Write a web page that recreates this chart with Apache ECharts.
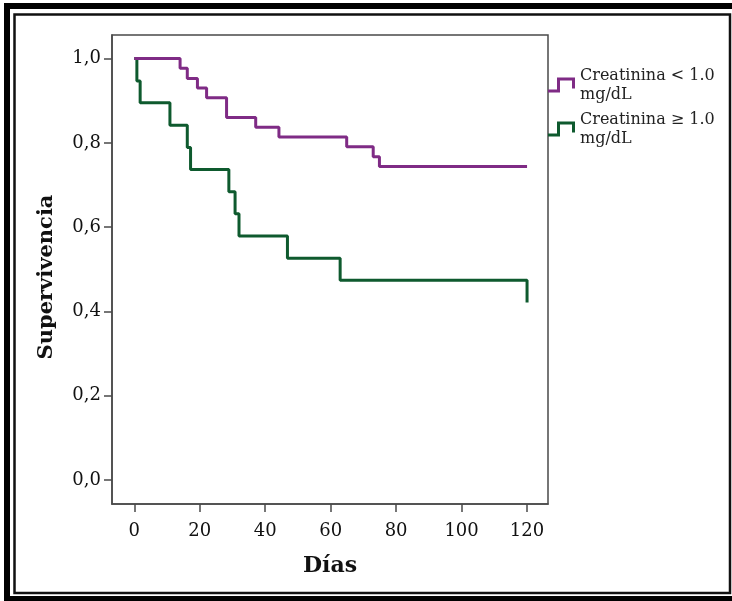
<!DOCTYPE html>
<html>
<head>
<meta charset="utf-8">
<script src="https://cdn.jsdelivr.net/npm/echarts@6/dist/echarts.min.js"></script>
<style>
  html, body { margin: 0; padding: 0; background: #fff; }
  #chart { width: 732px; height: 601px; }
</style>
</head>
<body>
<div id="chart"></div>
<script>
// Kaplan-Meier survival data
const lowName = 'Creatinina < 1.0\nmg/dL';
const highName = 'Creatinina \u2265 1.0\nmg/dL';

const lowDays = [0, 14.0, 16.2, 19.3, 22.1, 28.2, 37.1, 44.2, 64.9, 73.0, 74.9, 120];
const lowSurv = [1.0, 0.977, 0.953, 0.930, 0.907, 0.860, 0.837, 0.814, 0.791, 0.767, 0.744, 0.744];

const highDays = [0, 0.8, 1.8, 10.9, 16.2, 17.2, 28.9, 30.8, 32.0, 46.8, 62.9, 120];
const highSurv = [1.0, 0.947, 0.895, 0.842, 0.789, 0.737, 0.684, 0.632, 0.579, 0.526, 0.474, 0.421];

const xTicks = [0, 20, 40, 60, 80, 100, 120];
const yTicks = [0, 0.2, 0.4, 0.6, 0.8, 1.0];

const xTitle = 'Días';
const yTitle = 'Supervivencia';

const FONT = 'DejaVu Serif';
const AXIS_COLOR = '#4a4a4a';

const pairs = (xs, ys) => xs.map((x, i) => [x, ys[i]]);

const chart = echarts.init(document.getElementById('chart'), null, { renderer: 'canvas' });

chart.setOption({
  animation: false,
  backgroundColor: '#fff',
  grid: {
    left: 112, right: 184, top: 35, bottom: 97,
    show: true, borderColor: AXIS_COLOR, borderWidth: 1.5, backgroundColor: 'transparent'
  },
  xAxis: {
    type: 'value',
    min: -6.8, max: 126.4,
    splitLine: { show: false },
    axisLine: { show: true, onZero: false, lineStyle: { color: AXIS_COLOR, width: 1.5 } },
    axisTick: { show: true, length: 8, customValues: xTicks, lineStyle: { color: AXIS_COLOR, width: 1.5 } },
    axisLabel: { customValues: xTicks, margin: 18, color: '#111', fontFamily: FONT, fontSize: 18 },
    name: xTitle,
    nameLocation: 'middle',
    nameGap: 51,
    nameTextStyle: { fontFamily: FONT, fontWeight: 'bold', fontSize: 22, color: '#111' }
  },
  yAxis: {
    type: 'value',
    min: -0.057, max: 1.056,
    splitLine: { show: false },
    axisLine: { show: true, onZero: false, lineStyle: { color: AXIS_COLOR, width: 1.5 } },
    axisTick: { show: true, length: 8, customValues: yTicks, lineStyle: { color: AXIS_COLOR, width: 1.5 } },
    axisLabel: {
      customValues: yTicks, margin: 11, color: '#111', fontFamily: FONT, fontSize: 18,
      formatter: v => v.toFixed(1).replace('.', ',')
    }
  },
  legend: {
    orient: 'vertical',
    left: 548, top: 66,
    padding: 0,
    itemWidth: 27, itemHeight: 15, itemGap: 6,
    icon: 'path://M0,12L9,12L9,0L27,0L27,11L24,11L24,3L12,3L12,15L0,15Z',
    itemStyle: { borderWidth: 0 },
    textStyle: { fontFamily: FONT, fontSize: 16, lineHeight: 19, color: '#222' },
    data: [lowName, highName]
  },
  graphic: [
    {
      type: 'rect', silent: true,
      shape: { x: 7, y: 6, width: 740, height: 593 },
      style: { fill: 'none', stroke: '#000', lineWidth: 6 }
    },
    {
      type: 'rect', silent: true,
      shape: { x: 14.5, y: 14.5, width: 715.5, height: 578.5 },
      style: { fill: 'none', stroke: '#111', lineWidth: 2.5 }
    },
    {
      type: 'text', silent: true,
      x: 47, y: 277, rotation: Math.PI / 2,
      style: {
        text: yTitle, fontFamily: FONT, fontWeight: 'bold', fontSize: 21,
        fill: '#111', align: 'center', verticalAlign: 'middle'
      }
    }
  ],
  series: [
    {
      name: highName, type: 'line', step: 'end',
      data: pairs(highDays, highSurv),
      showSymbol: false, symbol: 'none',
      color: '#0e5a2e',
      lineStyle: { width: 3, color: '#0e5a2e' }
    },
    {
      name: lowName, type: 'line', step: 'end',
      data: pairs(lowDays, lowSurv),
      showSymbol: false, symbol: 'none',
      color: '#7f2b85',
      lineStyle: { width: 3, color: '#7f2b85' }
    }
  ]
});
</script>
</body>
</html>
